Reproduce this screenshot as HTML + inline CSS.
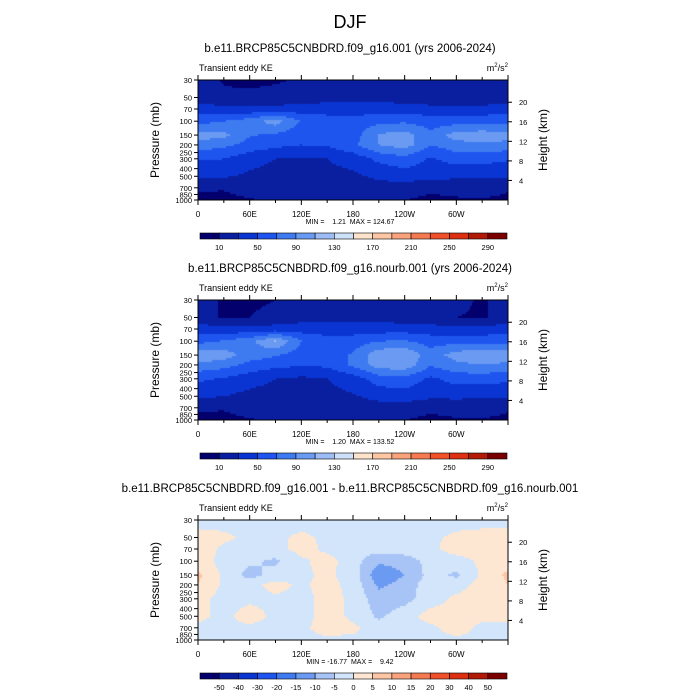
<!DOCTYPE html>
<html><head><meta charset="utf-8"><style>
html,body{margin:0;padding:0;background:#fff;}
#wrap{position:relative;width:700px;height:700px;overflow:hidden;font-family:"Liberation Sans",sans-serif;}
canvas{position:absolute;}
svg{position:absolute;left:0;top:0;}
.pre{white-space:pre;}
</style></head><body>
<div id="wrap">
<canvas id="c0" width="310" height="120" style="left:198px;top:80px"></canvas>
<canvas id="c1" width="310" height="120" style="left:198px;top:300px"></canvas>
<canvas id="c2" width="310" height="120" style="left:198px;top:520px"></canvas>
<svg id="svg" width="700" height="700"></svg>
</div>
<script>
const lons=[0,30,60,90,120,150,180,210,240,270,300,330,360];
const levels=[30,50,70,100,150,200,300,500,700,1000];
// panel 1: KE control run
const ke1_30=[18,8,6,8,12,20,20,20,20,18,16,14,18];
const ke1_50=[20,14,14,16,20,22,22,22,20,14,12,12,20];
const ke1_70=[40,36,34,36,38,40,40,40,40,38,38,38,40];
const ke1_100=[62,70,80,100,68,60,58,64,66,60,60,62,62];
const ke1_150=[100,95,72,66,58,56,60,92,100,75,100,102,100];
const ke1_200=[82,75,62,55,50,52,66,90,100,70,82,86,82];
const ke1_300=[52,50,38,30,28,30,38,55,62,48,58,58,52];
const ke1_500=[32,32,26,22,22,24,26,34,40,36,34,32,32];
const ke1_700=[12,12,20,22,22,22,22,22,20,14,16,20,12];
const ke1_1000=[6,4,8,14,14,14,14,12,10,6,8,8,6];
// panel 2: KE nourb run
const ke2_30=[18,8,6,10,14,20,20,20,20,18,14,8,18];
const ke2_50=[18,8,10,16,22,22,22,22,20,16,10,8,18];
const ke2_70=[40,36,36,38,40,40,40,40,40,38,38,38,40];
const ke2_100=[62,72,84,112,70,58,60,70,72,62,62,62,62];
const ke2_150=[108,100,80,72,60,60,72,104,110,78,100,108,108];
const ke2_200=[84,78,64,56,52,54,74,100,104,72,84,90,84];
const ke2_300=[54,48,38,30,26,30,40,60,64,46,58,58,54];
const ke2_500=[34,30,24,22,22,24,28,36,40,34,34,32,34];
const ke2_700=[12,12,20,22,22,22,22,22,20,14,18,20,12];
const ke2_1000=[6,4,8,14,14,14,14,12,10,6,8,8,6];
// panel 3: difference
const d_30=[-2,-2,-2,-2,-2,-2,-2,-2,-2,-2,-2,-2,-2];
const d_50=[2,1,-1,-1,1,-1,-2,-2,-2,-1,1,2,2];
const d_70=[3,-1,-2,-2,2,-1,-3,-3,-2,-1,2,2,3];
const d_100=[3,-2,-4,-6,-1,2,-3,-9,-8,-3,-2,1,3];
const d_150=[6,-1,-7,-3,-1,1,-2,-14,-10,-3,-6,1,6];
const d_200=[5,-1,-2,2,-1,2,-2,-11,-8,-2,-2,2,5];
const d_300=[2,-2,-1,-1,-2,2,-1,-8,-7,-2,1,2,2];
const d_500=[1,-1,2,-1,-2,2,-1,-6,-2,2,1,1,1];
const d_700=[-1,-1,-1,-1,-1,2,1,-2,-2,-1,2,-1,-1];
const d_1000=[-1,-1,-1,-1,-1,-1,-1,-1,-1,-1,-1,-1,-1];
const keLevels=[10,30,50,70,90,110,130,150,170,190,210,230,250,270,290];
const keTickLabels=["10","50","90","130","170","210","250","290"];
const dLevels=[-50,-40,-30,-20,-15,-10,-5,0,5,10,15,20,30,40,50];
const pTicks=[30,50,70,100,150,200,250,300,400,500,700,850,1000];
const hTicks=[20,16,12,8,4];
const xTickLabels=["0","60E","120E","180","120W","60W"];
const colors=["#03006e","#0a1fa0","#0a35d2","#1f55ef","#3f7bf0","#6a9af1","#9dbcf6","#cde0fa","#fde3cc","#fcc6a4","#f9a27c","#f57a52","#f0502a","#dc3010","#b01a06","#7a0000"];
const dColors=["#03006e","#0a1fa0","#0a35d2","#1f55ef","#3f7bf0","#6a9af1","#a8c4f6","#d2e5fa","#fde6d2","#fcc6a4","#f9a27c","#f57a52","#f0502a","#dc3010","#b01a06","#7a0000"];

const fields=[[ke1_30,ke1_50,ke1_70,ke1_100,ke1_150,ke1_200,ke1_300,ke1_500,ke1_700,ke1_1000],
[ke2_30,ke2_50,ke2_70,ke2_100,ke2_150,ke2_200,ke2_300,ke2_500,ke2_700,ke2_1000],
[d_30,d_50,d_70,d_100,d_150,d_200,d_300,d_500,d_700,d_1000]];
const X0=198,X1=508,PH=120;
const tops=[80,300,520];
function xs(lon){return X0+(X1-X0)*lon/360;}
function ys(p,top){return top+PH*Math.log(p/30)/Math.log(1000/30);}
function zH(h){return 1000*Math.exp(-h/7);}
function sample(f,lon,p){
  let i=Math.min(Math.floor(lon/30),11);let tx=(lon-lons[i])/30;
  let lp=Math.log(p);let j=0;
  while(j<levels.length-2&&p>levels[j+1])j++;
  let ty=(lp-Math.log(levels[j]))/(Math.log(levels[j+1])-Math.log(levels[j]));
  ty=Math.max(0,Math.min(1,ty));
  const a=f[j][i],b=f[j][i+1],c=f[j+1][i],d=f[j+1][i+1];
  return (a*(1-tx)+b*tx)*(1-ty)+(c*(1-tx)+d*tx)*ty;
}
function bin(v,lv){let k=0;while(k<lv.length&&v>=lv[k])k++;return k;}
for(let n=0;n<3;n++){
  const ctx=document.getElementById('c'+n).getContext('2d');
  const lv=n<2?keLevels:dLevels, cl=n<2?colors:dColors;
  for(let px=0;px<310;px+=2){for(let py=0;py<120;py+=2){
    const lon=(px+1)/310*360;
    const p=30*Math.exp((py+1)/120*Math.log(1000/30));
    ctx.fillStyle=cl[bin(sample(fields[n],lon,p),lv)];
    ctx.fillRect(px,py,2,2);
  }}
}
const svg=document.getElementById('svg');
const NS="http://www.w3.org/2000/svg";
function el(tag,attrs,txt){const e=document.createElementNS(NS,tag);for(const k in attrs)e.setAttribute(k,attrs[k]);if(txt!==undefined)e.textContent=txt;svg.appendChild(e);return e;}
let t=el('text',{x:350,y:28,'font-size':18,'text-anchor':'middle'},'DJF');


const subs=["b.e11.BRCP85C5CNBDRD.f09_g16.001 (yrs 2006-2024)","b.e11.BRCP85C5CNBDRD.f09_g16.nourb.001 (yrs 2006-2024)","b.e11.BRCP85C5CNBDRD.f09_g16.001 - b.e11.BRCP85C5CNBDRD.f09_g16.nourb.001"];
const mm=["MIN =    1.21  MAX = 124.67","MIN =    1.20  MAX = 133.52","MIN = -16.77  MAX =    9.42"];
for(let n=0;n<3;n++){
  const T=tops[n],B=T+PH;
  t=el('text',{x:350,y:T-28,'font-size':11.5,'text-anchor':'middle'},subs[n]);
  
  
  t=el('text',{x:199,y:T-9,'font-size':9},'Transient eddy KE');
  
  
  t=el('text',{x:508,y:T-9,'font-size':9,'text-anchor':'end'});t.innerHTML='m<tspan font-size="6" dy="-4">2</tspan><tspan dy="4">/s</tspan><tspan font-size="6" dy="-4">2</tspan>';
  
  
  t=el('rect',{x:X0,y:T,width:X1-X0,height:PH,fill:'none',stroke:'#000','stroke-width':1});
  
  
  for(let lon=0;lon<=360;lon+=30){const x=xs(lon),L=lon%60==0?5:3;
    el('line',{x1:x,x2:x,y1:B,y2:B+L,stroke:'#000'});el('line',{x1:x,x2:x,y1:T,y2:T-L,stroke:'#000'});}
  xTickLabels.forEach((s,i)=>{t=el('text',{x:xs(i*60),y:B+17,'font-size':8,'text-anchor':'middle'},s);
    
    });
  pTicks.forEach(p=>{const y=ys(p,T);el('line',{x1:X0,x2:X0-4,y1:y,y2:y,stroke:'#000'});
    t=el('text',{x:X0-6,y:y+3,'font-size':7.5,'text-anchor':'end'},String(p));
    
    });
  hTicks.forEach(h=>{const p=zH(h);const y=ys(p,T);el('line',{x1:X1,x2:X1+4,y1:y,y2:y,stroke:'#000'});
    t=el('text',{x:X1+11,y:y+3,'font-size':7.5},String(h));
    
    });
  t=el('text',{x:0,y:0,'font-size':12,'text-anchor':'middle',transform:`translate(159,${T+60}) rotate(-90)`},'Pressure (mb)');
  
  
  t=el('text',{x:0,y:0,'font-size':12,'text-anchor':'middle',transform:`translate(547,${T+60}) rotate(-90)`},'Height (km)');
  
  
  t=el('text',{x:350,y:B+24,'font-size':7,'text-anchor':'middle','class':'pre'},mm[n]);
  
  
  const cy=B+33,cw=307/16,cl=n<2?colors:dColors;
  for(let k=0;k<16;k++){t=el('rect',{x:200+k*cw,y:cy,width:cw,height:6,fill:cl[k],stroke:'#000','stroke-width':0.6});
    
    }
  if(n<2){keTickLabels.forEach((s,i)=>{t=el('text',{x:200+(2*i+1)*cw,y:cy+17,'font-size':7.5,'text-anchor':'middle'},s);
    
    });}
  else{dLevels.forEach((v,i)=>{t=el('text',{x:200+(i+1)*cw,y:cy+17,'font-size':7.5,'text-anchor':'middle'},String(v));
    
    });}
}
</script>
</body></html>
